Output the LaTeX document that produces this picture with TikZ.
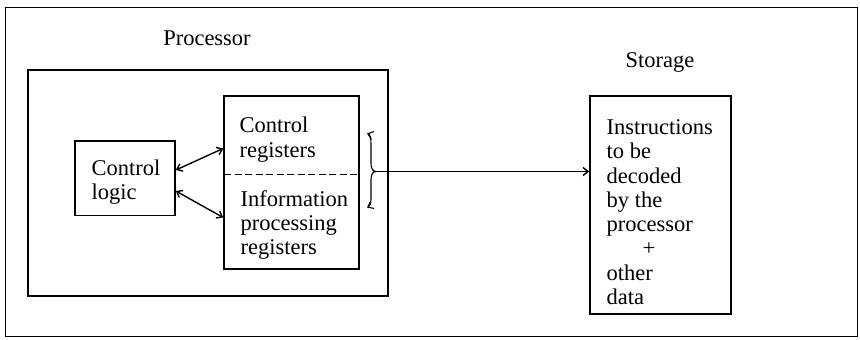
\documentclass[tikz,border=0pt]{standalone}
\usepackage{fontspec}
\setmainfont{Liberation Serif}
\usetikzlibrary{arrows.meta}
\begin{document}
\begin{tikzpicture}[x=1pt,y=-1pt,
  box/.style={draw, line width=1.7pt, inner sep=0pt},
  txt/.style={font=\fontsize{22.5}{24.4}\selectfont, align=left, inner sep=0pt},
  conn/.style={line width=1.4pt, {Straight Barb[length=5pt,width=8pt]}-{Straight Barb[length=5pt,width=8pt]}},
  tip/.style={line width=1.4pt, -{Straight Barb[length=5pt,width=8pt]}}]
\useasboundingbox (0,0) rectangle (860,340);
\draw[line width=1pt] (5,7) rectangle (857,336);
% processor
\node[txt] (proclbl) at (207,38) {Processor};
\node[box, minimum width=360pt, minimum height=226pt] (proc) at (208,183) {};
\node[box, minimum width=100pt, minimum height=74.5pt] (cl) at (125,178.3) {};
\node[txt, anchor=west, font=\fontsize{22.5}{24}\selectfont] (cltxt) at (91.5,182) {Control\\logic};
\node[box, minimum width=135pt, minimum height=173pt] (reg) at (291.5,182.5) {};
\coordinate (dl) at (224,174.5);
\coordinate (dr) at (359,174.5);
\draw[line width=1.5pt, dash pattern=on 7pt off 3.5pt] (dl) -- (dr);
\node[txt, anchor=west, font=\fontsize{22.5}{25}\selectfont] (crtxt) at (239.5,139.5) {Control\\registers};
\node[txt, anchor=west, font=\fontsize{22.5}{24.2}\selectfont] (iptxt) at (240.5,225) {Information\\processing\\registers};
\draw[conn] ([yshift=8.3pt]cl.east) -- ([yshift=34pt]reg.west);
\draw[conn] ([yshift=-12.7pt]cl.east) -- ([yshift=-35pt]reg.west);
% brace
\coordinate (btip) at (376,171.5);
\draw[conn, line width=1.1pt] (367,133.5) .. controls (370,134.5) and (371,137.5) .. (371,144.5) -- (371,163.5) .. controls (371,168.5) and (373,171.5) .. (btip) .. controls (373,171.5) and (371,174.5) .. (371,179.5) -- (371,199) .. controls (371,204) and (370,206) .. (367,207.5);
% storage
\node[txt] (stlbl) at (660,62.5) {Storage};
\node[box, minimum width=141pt, minimum height=218pt] (st) at (660.5,205) {};
\node[txt, anchor=west, font=\fontsize{22.5}{24.3}\selectfont] (sttxt) at (606.5,212.2) {Instructions\\to be\\decoded\\by the\\processor\\\hspace*{1.6em}+\\other\\data};
\draw[tip] (btip) -- (st.west |- btip);
\end{tikzpicture}
\end{document}
